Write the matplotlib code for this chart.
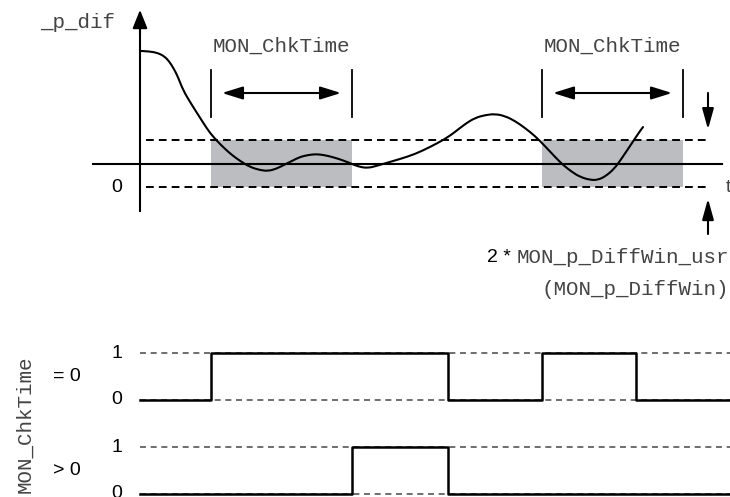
import matplotlib
matplotlib.use('Agg')
import matplotlib.pyplot as plt
from matplotlib.path import Path
from matplotlib.patches import PathPatch

# figure is laid out in pixel columns (time axis) of a 730x497 picture
W, H = 730, 497

# position deviation curve: time (px) and value in units of the window half-width
curve_t = [141, 150, 158, 164, 169, 174, 178, 183, 190, 197, 204, 210, 217, 225, 232,
           240, 250, 260, 268, 276, 284, 292, 300, 308, 316, 324, 332, 342, 352, 360,
           368, 376, 386, 400, 415, 430, 445, 455, 465, 475, 485, 495, 505, 515, 525,
           535, 545, 555, 563, 572, 580, 590, 598, 606, 614, 620, 626, 632, 638, 643]
curve_v = [4.79, 4.77, 4.70, 4.57, 4.36, 4.02, 3.68, 3.13, 2.62, 2.15, 1.68, 1.30, 0.96,
           0.62, 0.36, 0.11, -0.15, -0.28, -0.32, -0.23, -0.06, 0.11, 0.28, 0.36, 0.40,
           0.36, 0.28, 0.15, -0.02, -0.15, -0.19, -0.11, 0.02, 0.19, 0.40, 0.70, 1.04,
           1.34, 1.68, 1.94, 2.06, 2.11, 2.02, 1.81, 1.51, 1.17, 0.74, 0.28, -0.06, -0.36,
           -0.57, -0.70, -0.70, -0.53, -0.23, 0.11, 0.49, 0.87, 1.26, 1.55]

# MON_ChkTime windows
win_start = [211, 542]
win_len = 141
win_label = 'MON_ChkTime'

# output signals (steps-post)
sig_eq0_t = [140, 211, 448, 542, 636, 730]
sig_eq0_v = [0, 1, 0, 1, 0, 0]
sig_gt0_t = [140, 352, 448, 730]
sig_gt0_v = [0, 1, 0, 0]
sig_labels = ['= 0', '> 0']

MONO = 'Liberation Mono'
SANS = 'Liberation Sans'
TXT = '#444444'
GRAY = '#bcbdc0'

fig = plt.figure(figsize=(W / 100, H / 100), dpi=100)


def layer(zero_px, unit_px):
    # full-figure transparent axes, x in pixels, y scaled so 0 -> zero_px, 1 -> zero_px-unit_px
    a = fig.add_axes([0, 0, 1, 1])
    a.set_xlim(0, W)
    a.set_ylim((zero_px - H) / unit_px, zero_px / unit_px)
    a.axis('off')
    a.patch.set_alpha(0)
    return a


def arrow(a, tail, tip, style='-|>', lw=1.5, hl=0.8, hw=0.3, ms=14):
    a.annotate('', xy=tip, xytext=tail,
               arrowprops=dict(arrowstyle=f'{style},head_length={hl},head_width={hw}',
                               lw=lw, color='black', shrinkA=0, shrinkB=0,
                               mutation_scale=ms))


# ---------- top plot ----------
top = layer(163.5, 23.5)

for s in win_start:
    top.fill_between([s, s + win_len], -1, 1, color=GRAY, lw=0, zorder=1)
    top.plot([s, s], [2, 4], color='black', lw=1.3)
    top.plot([s + win_len, s + win_len], [2, 4], color='black', lw=1.3)
    arrow(top, (s + 11, 3), (s + win_len - 11, 3), style='<|-|>', lw=1.5, hl=0.9, hw=0.28)
    top.text(s + win_len / 2, 5.0, win_label, family=MONO, fontsize=15, color=TXT,
             ha='center', va='center')

for lvl in (1, -1):
    top.plot([146, 708], [lvl, lvl], color='black', lw=1.4, dashes=(4, 2.6), zorder=2)

# axes
top.plot([93, 722], [0, 0], color='black', lw=1.5, zorder=3)
arrow(top, (700, 0), (731, 0), hl=0.7, hw=0.3)
top.plot([140, 140], [-2, 6.0], color='black', lw=1.5, zorder=3)
arrow(top, (140, 5.5), (140, 6.54), hl=0.8, hw=0.32)

# smooth curve: quadratic segments through the midpoints of the read points
pts = list(zip(curve_t, curve_v))
verts, codes = [pts[0]], [Path.MOVETO]
for p, q in zip(pts[1:-1], pts[2:]):
    verts += [p, ((p[0] + q[0]) / 2, (p[1] + q[1]) / 2)]
    codes += [Path.CURVE3, Path.CURVE3]
verts.append(pts[-1])
codes.append(Path.LINETO)
top.add_patch(PathPatch(Path(verts, codes), fill=False, edgecolor='black', lw=1.5,
                        zorder=4, capstyle='round', joinstyle='round'))

top.text(115, 6.0, '_p_dif', family=MONO, fontsize=15, color=TXT, ha='right', va='center')
top.text(117, -1.0, '0', family=SANS, fontsize=14, color='black', ha='center', va='center')
top.text(726, -1.0, 't', family=SANS, fontsize=14, color=TXT, ha='left', va='center')

# window width arrows
arrow(top, (708, 3.0), (708, 1.45), lw=1.5, hl=0.9, hw=0.25)
arrow(top, (708, -3.0), (708, -1.5), lw=1.5, hl=0.9, hw=0.25)

mono = top.text(729, -4.0, 'MON_p_DiffWin_usr', family=MONO, fontsize=15, color=TXT,
                ha='right', va='center')
top.annotate('2 *', xy=(0, 0.5), xycoords=mono, xytext=(-4, 0), textcoords='offset points',
             family=SANS, fontsize=14, color='black', ha='right', va='center')
top.text(729, -5.35, '(MON_p_DiffWin)', family=MONO, fontsize=15, color=TXT,
         ha='right', va='center')

# ---------- signals ----------
rows = [(layer(400, 47), sig_eq0_t, sig_eq0_v), (layer(494, 47), sig_gt0_t, sig_gt0_v)]
for (a, t, v), lab in zip(rows, sig_labels):
    for lvl in (0, 1):
        a.plot([140, W], [lvl, lvl], color='#555555', lw=1.2, dashes=(3.6, 2.8), zorder=1)
        a.text(117, lvl, str(lvl), family=SANS, fontsize=14, color='black',
               ha='center', va='center')
    a.plot(t, v, drawstyle='steps-post', color='black', lw=1.8, zorder=3)
    a.text(67, 0.5, lab, family=SANS, fontsize=14, color='black', ha='center', va='center')

fig.text(25 / W, 1 - 424 / H, 'MON_ChkTime', family=MONO, fontsize=15, color=TXT,
         rotation=90, ha='center', va='center')

plt.savefig('out.png', dpi=100)
